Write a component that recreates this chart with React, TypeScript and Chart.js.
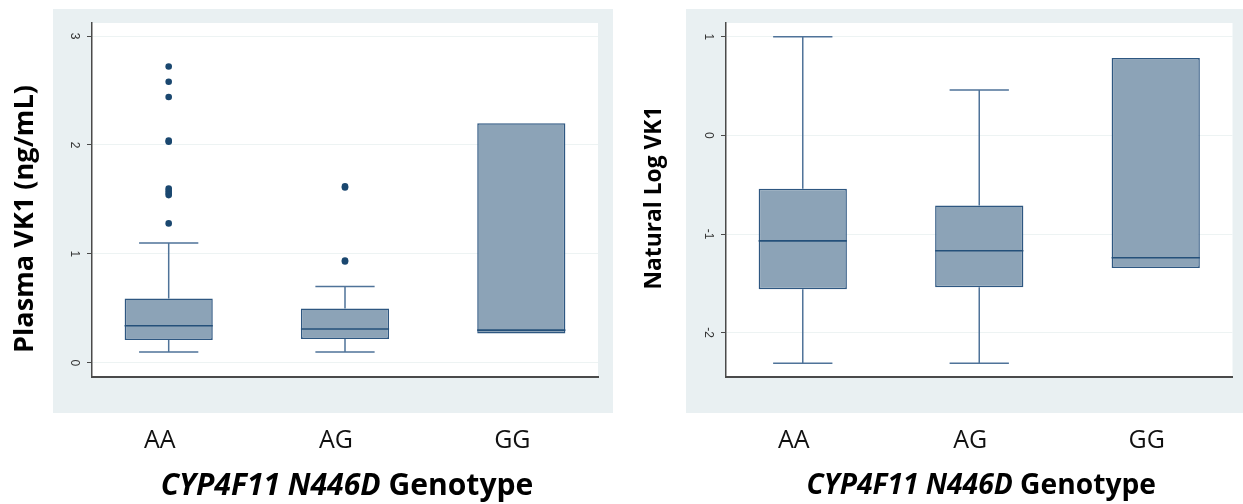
import { useEffect, useRef } from 'react';
import { Chart, registerables } from 'chart.js';
Chart.register(...registerables);

// ---------- data ----------
const categories = ['AA', 'AG', 'GG'];

// Left panel: Plasma VK1 (ng/mL)
const plasmaLowerWhisker = [0.10, 0.10, null];
const plasmaQ1 = [0.21, 0.22, 0.27];
const plasmaMedian = [0.34, 0.31, 0.30];
const plasmaQ3 = [0.59, 0.50, 2.20];
const plasmaUpperWhisker = [1.10, 0.70, null];
const plasmaOutliersAA = [1.28, 1.54, 1.56, 1.58, 1.60, 2.03, 2.04, 2.44, 2.58, 2.72];
const plasmaOutliersAG = [0.93, 0.94, 1.61, 1.62];
const plasmaOutliersGG: number[] = [];
const plasmaTicks = [0, 1, 2, 3];
const plasmaRange = [-0.13, 3.12];

// Right panel: Natural Log VK1
const logLowerWhisker = [-2.31, -2.31, null];
const logQ1 = [-1.56, -1.54, -1.345];
const logMedian = [-1.07, -1.17, -1.24];
const logQ3 = [-0.54, -0.71, 0.785];
const logUpperWhisker = [1.00, 0.46, null];
const logOutliersAA: number[] = [];
const logOutliersAG: number[] = [];
const logOutliersGG: number[] = [];
const logTicks = [-2, -1, 0, 1];
const logRange = [-2.45, 1.14];

const xRange = [-0.435, 2.435];
const xTitleItalic = 'CYP4F11 N446D';
const xTitleRest = ' Genotype';

// ---------- styles ----------
const BG = '#e9f0f2';
const BOX_FILL = '#8ca3b7';
const BOX_BORDER = '#2e5781';
const WHISKER = '#4f7399';
const MEDIAN = '#24507a';
const OUTLIER = '#1a476f';
const AXIS = '#4a4a4a';
const GRID = '#edf3f3';
const FONT = '"Open Sans", "Noto Sans", sans-serif';

type Panel = {
  lower: (number | null)[];
  q1: number[];
  median: number[];
  q3: number[];
  upper: (number | null)[];
  outliers: number[][];
  ticks: number[];
  range: number[];
  yWidth: number;
  padRight: number;
  bg: number[];
  yTitle: string;
  yTitleCx: number;
  yTitleCy: number;
  yTitleWidth: number;
  xTitleWidth: number;
};

function fitFont(ctx: CanvasRenderingContext2D, text: string, prefix: string, target: number) {
  ctx.font = `${prefix} 100px ${FONT}`;
  const w = ctx.measureText(text).width;
  return (100 * target) / w;
}

function decorPlugin(p: Panel) {
  return {
    id: 'decor',
    beforeDraw(chart: any) {
      const { ctx, chartArea: a } = chart;
      ctx.save();
      ctx.fillStyle = BG;
      ctx.fillRect(p.bg[0], p.bg[1], p.bg[2], p.bg[3]);
      ctx.fillStyle = '#ffffff';
      ctx.fillRect(a.left, a.top, a.right - a.left, a.bottom - a.top);
      ctx.restore();
    },
    beforeDatasetsDraw(chart: any) {
      const { ctx } = chart;
      const xs = chart.scales.x;
      const ys = chart.scales.y;
      const capHalf = (xs.getPixelForValue(1) - xs.getPixelForValue(0)) * 0.168;
      ctx.save();
      ctx.strokeStyle = WHISKER;
      ctx.lineWidth = 1.5;
      categories.forEach((_, i) => {
        const x = xs.getPixelForValue(i);
        const segs: [number | null, number][] = [
          [p.lower[i], p.q1[i]],
          [p.upper[i], p.q3[i]],
        ];
        segs.forEach(([end, start]) => {
          if (end === null || end === undefined) return;
          const y0 = ys.getPixelForValue(start);
          const y1 = ys.getPixelForValue(end);
          ctx.beginPath();
          ctx.moveTo(x, y0);
          ctx.lineTo(x, y1);
          ctx.moveTo(x - capHalf, y1);
          ctx.lineTo(x + capHalf, y1);
          ctx.stroke();
        });
      });
      ctx.restore();
    },
    afterDatasetsDraw(chart: any) {
      const { ctx } = chart;
      const ys = chart.scales.y;
      const meta = chart.getDatasetMeta(0);
      ctx.save();
      ctx.strokeStyle = MEDIAN;
      ctx.lineWidth = 1.6;
      meta.data.forEach((bar: any, i: number) => {
        const y = ys.getPixelForValue(p.median[i]);
        ctx.beginPath();
        ctx.moveTo(bar.x - bar.width / 2, y);
        ctx.lineTo(bar.x + bar.width / 2, y);
        ctx.stroke();
      });
      ctx.restore();
    },
    afterDraw(chart: any) {
      const { ctx, chartArea: a } = chart;
      const ys = chart.scales.y;
      ctx.save();
      // rotated y tick labels
      ctx.fillStyle = '#333';
      ctx.font = `12px "Liberation Sans", Arial, sans-serif`;
      ctx.textAlign = 'center';
      ctx.textBaseline = 'middle';
      ys.ticks.forEach((t: any) => {
        const y = ys.getPixelForValue(t.value);
        ctx.save();
        ctx.translate(a.left - 18, y);
        ctx.rotate(Math.PI / 2);
        ctx.fillText(String(t.value), 0, 0);
        ctx.restore();
      });
      // y title
      ctx.fillStyle = '#000';
      const ySize = fitFont(ctx, p.yTitle, 'bold', p.yTitleWidth);
      ctx.font = `bold ${ySize}px ${FONT}`;
      ctx.save();
      ctx.translate(p.yTitleCx, p.yTitleCy);
      ctx.rotate(-Math.PI / 2);
      ctx.fillText(p.yTitle, 0, 0);
      ctx.restore();
      // x title (mixed style)
      const size = fitFont(ctx, xTitleItalic + xTitleRest, 'bold', p.xTitleWidth);
      ctx.font = `italic bold ${size}px ${FONT}`;
      const w1 = ctx.measureText(xTitleItalic).width;
      ctx.font = `bold ${size}px ${FONT}`;
      const w2 = ctx.measureText(xTitleRest).width;
      const cx = (a.left + a.right) / 2 + 2;
      const startX = cx - (w1 + w2) / 2;
      ctx.textAlign = 'left';
      ctx.textBaseline = 'middle';
      ctx.font = `italic bold ${size}px ${FONT}`;
      ctx.fillText(xTitleItalic, startX, 486);
      ctx.font = `bold ${size}px ${FONT}`;
      ctx.fillText(xTitleRest, startX + w1, 486);
      ctx.restore();
    },
  };
}

function buildChart(canvas: HTMLCanvasElement, p: Panel) {
  const boxData = categories.map((_, i) => ({ x: i, y: [p.q1[i], p.q3[i]] }));
  const outlierData: { x: number; y: number }[] = [];
  p.outliers.forEach((list, i) => list.forEach((v) => outlierData.push({ x: i, y: v })));
  return new Chart(canvas, {
    type: 'bar',
    data: {
      datasets: [
        {
          type: 'bar',
          data: boxData as any,
          backgroundColor: BOX_FILL,
          borderColor: BOX_BORDER,
          borderWidth: 1.5,
          borderSkipped: false,
          categoryPercentage: 1,
          barPercentage: 0.5,
        } as any,
        {
          type: 'scatter',
          data: outlierData,
          backgroundColor: OUTLIER,
          borderColor: OUTLIER,
          pointRadius: 3.3,
          pointBorderWidth: 0,
        } as any,
      ],
    },
    plugins: [decorPlugin(p)],
    options: {
      responsive: false,
      maintainAspectRatio: false,
      animation: false,
      devicePixelRatio: 1,
      events: [],
      layout: { padding: { top: 23, right: p.padRight, left: 0, bottom: 0 } },
      plugins: { legend: { display: false }, tooltip: { enabled: false }, title: { display: false } },
      scales: {
        x: {
          type: 'linear',
          min: xRange[0],
          max: xRange[1],
          offset: false,
          afterBuildTicks: (s: any) => {
            s.ticks = categories.map((_, i) => ({ value: i }));
          },
          afterFit: (s: any) => {
            s.height = 127;
          },
          grid: { display: false, drawTicks: false, offset: false },
          border: { display: true, color: AXIS, width: 2 },
          ticks: {
            callback: (v: any) => categories[v],
            font: { family: FONT, size: 25 },
            color: '#111',
            padding: 49,
            labelOffset: -9,
            minRotation: 0,
            maxRotation: 0,
            autoSkip: false,
          },
        },
        y: {
          type: 'linear',
          min: p.range[0],
          max: p.range[1],
          afterBuildTicks: (s: any) => {
            s.ticks = p.ticks.map((v) => ({ value: v }));
          },
          afterFit: (s: any) => {
            s.width = p.yWidth;
          },
          grid: { color: GRID, lineWidth: 1, drawTicks: true, tickLength: 5, tickColor: AXIS, tickWidth: 1 },
          border: { display: true, color: AXIS, width: 1.5 },
          ticks: { display: false },
        },
      },
    } as any,
  });
}

const leftPanel: Panel = {
  lower: plasmaLowerWhisker,
  q1: plasmaQ1,
  median: plasmaMedian,
  q3: plasmaQ3,
  upper: plasmaUpperWhisker,
  outliers: [plasmaOutliersAA, plasmaOutliersAG, plasmaOutliersGG],
  ticks: plasmaTicks,
  range: plasmaRange,
  yWidth: 92,
  padRight: 22,
  bg: [53, 9, 560, 404],
  yTitle: 'Plasma VK1 (ng/mL)',
  yTitleCx: 25,
  yTitleCy: 219,
  yTitleWidth: 268,
  xTitleWidth: 384,
};

const rightPanel: Panel = {
  lower: logLowerWhisker,
  q1: logQ1,
  median: logMedian,
  q3: logQ3,
  upper: logUpperWhisker,
  outliers: [logOutliersAA, logOutliersAG, logOutliersGG],
  ticks: logTicks,
  range: logRange,
  yWidth: 106,
  padRight: 10.5,
  bg: [66, 9, 557, 404],
  yTitle: 'Natural Log VK1',
  yTitleCx: 35,
  yTitleCy: 198,
  yTitleWidth: 183,
  xTitleWidth: 360,
};

export default function App() {
  const leftRef = useRef<HTMLCanvasElement>(null);
  const rightRef = useRef<HTMLCanvasElement>(null);
  useEffect(() => {
    const c1 = buildChart(leftRef.current!, leftPanel);
    const c2 = buildChart(rightRef.current!, rightPanel);
    return () => {
      c1.destroy();
      c2.destroy();
    };
  }, []);
  return (
    <div style={{ position: 'absolute', left: 0, top: 0, width: 1243, height: 504, background: '#ffffff' }}>
      <canvas
        ref={leftRef}
        width={620}
        height={504}
        style={{ position: 'absolute', left: 0, top: 0, width: 620, height: 504 }}
      />
      <canvas
        ref={rightRef}
        width={623}
        height={504}
        style={{ position: 'absolute', left: 620, top: 0, width: 623, height: 504 }}
      />
    </div>
  );
}
